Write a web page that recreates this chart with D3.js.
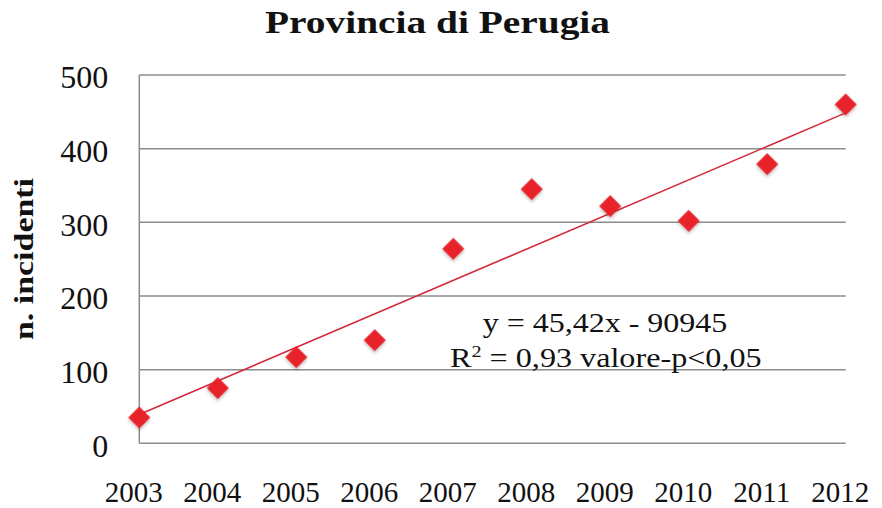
<!DOCTYPE html>
<html><head><meta charset="utf-8">
<script src="https://cdn.jsdelivr.net/npm/d3@7"></script>
<style>html,body{margin:0;padding:0;background:#fff;}svg{display:block;}</style>
</head><body>
<svg id="chart" width="882" height="508"></svg>
<script>
const years = [2003, 2004, 2005, 2006, 2007, 2008, 2009, 2010, 2011, 2012];
const values = [35, 75, 117, 140, 264, 345, 322, 302, 379, 460];
const yTicks = [0, 100, 200, 300, 400, 500];
const titleText = "Provincia di Perugia";
const yTitle = "n. incidenti";
const eqLine1 = "y = 45,42x - 90945";
const eqLine2 = ["R", "2", " = 0,93 valore-p<0,05"];

const W = 882, H = 508;
const m = {left: 139.3, right: 845.7, top: 75, bottom: 443.3};
const svg = d3.select("#chart");
const serif = "'Liberation Serif', 'Times New Roman', serif";

const x = d3.scaleLinear().domain([d3.min(years), d3.max(years)]).range([m.left, m.right]);
const y = d3.scaleLinear().domain([0, 500]).range([m.bottom, m.top]);

// gridlines
svg.append("g").selectAll("line").data(yTicks).join("line")
  .attr("x1", m.left).attr("x2", m.right)
  .attr("y1", d => y(d)).attr("y2", d => y(d))
  .attr("stroke", "#8c8c8c").attr("stroke-width", 1.5);
// left axis line
svg.append("line").attr("x1", m.left).attr("x2", m.left)
  .attr("y1", y(500)).attr("y2", y(0)).attr("stroke", "#8c8c8c").attr("stroke-width", 1.5);

// y tick labels
const yAxis = d3.axisLeft(y).tickValues(yTicks).tickSize(0).tickPadding(31);
const gy = svg.append("g").attr("transform", `translate(${m.left},0)`).call(yAxis);
gy.select(".domain").remove();
gy.selectAll("text").attr("font-family", serif).attr("font-size", 32).attr("fill", "#111")
  .attr("dy", "0.4em");

// x tick labels
const xAxis = d3.axisBottom(x).tickValues(years).tickFormat(d3.format("d")).tickSize(0).tickPadding(0);
const gx = svg.append("g").attr("transform", `translate(-6,${m.bottom})`).call(xAxis);
gx.select(".domain").remove();
gx.selectAll("text").attr("font-family", serif).attr("font-size", 29).attr("fill", "#111")
  .attr("dy", null).attr("y", 59);

// trendline (least squares)
const mx = d3.mean(years), my = d3.mean(values);
const slope = d3.sum(years, (d, i) => (d - mx) * (values[i] - my)) / d3.sum(years, d => (d - mx) * (d - mx));
const icpt = my - slope * mx;
const x0 = d3.min(years), x1 = d3.max(years);
svg.append("line")
  .attr("x1", x(x0)).attr("y1", y(slope * x0 + icpt))
  .attr("x2", x(x1)).attr("y2", y(slope * x1 + icpt))
  .attr("stroke", "#d4283a").attr("stroke-width", 1.6);

// shadow filter
const defs = svg.append("defs");
const f = defs.append("filter").attr("id", "sh").attr("x", "-50%").attr("y", "-50%").attr("width", "200%").attr("height", "200%");
f.append("feDropShadow").attr("dx", 1.5).attr("dy", 1.5).attr("stdDeviation", 1.5).attr("flood-color", "#000").attr("flood-opacity", 0.25);

// markers
const sym = d3.symbol().type(d3.symbolSquare).size(242);
svg.append("g").selectAll("path").data(years).join("path")
  .attr("d", sym)
  .attr("transform", (d, i) => `translate(${x(d)},${y(values[i])}) rotate(45)`)
  .attr("fill", "#e8202a").attr("filter", "url(#sh)");

// title
svg.append("text").attr("x", 437.5).attr("y", 33.3).attr("text-anchor", "middle")
  .attr("font-family", serif).attr("font-weight", "bold").attr("font-size", 32)
  .attr("fill", "#111").attr("textLength", 345).attr("lengthAdjust", "spacingAndGlyphs")
  .text(titleText);

// y title
svg.append("text").attr("transform", "translate(33,259) rotate(-90)")
  .attr("text-anchor", "middle").attr("font-family", serif).attr("font-weight", "bold")
  .attr("font-size", 28).attr("fill", "#111").attr("textLength", 162).attr("lengthAdjust", "spacingAndGlyphs")
  .text(yTitle);

// equation annotation
svg.append("text").attr("x", 482.7).attr("y", 331.7)
  .attr("font-family", serif).attr("font-size", 27).attr("fill", "#111")
  .attr("textLength", 244.6).attr("lengthAdjust", "spacingAndGlyphs")
  .text(eqLine1);
const t2 = svg.append("text").attr("x", 450).attr("y", 366.7)
  .attr("font-family", serif).attr("font-size", 27).attr("fill", "#111");
t2.append("tspan").text(eqLine2[0]);
t2.append("tspan").attr("dy", -10).attr("font-size", 17).text(eqLine2[1]);
t2.append("tspan").attr("dy", 10).text(eqLine2[2]);
// scale line 2 to target width
const w2 = t2.node().getComputedTextLength();
const target2 = 311.7;
t2.attr("transform", `translate(450,366.7) scale(${target2 / w2},1) translate(-450,-366.7)`);
</script>
</body></html>
